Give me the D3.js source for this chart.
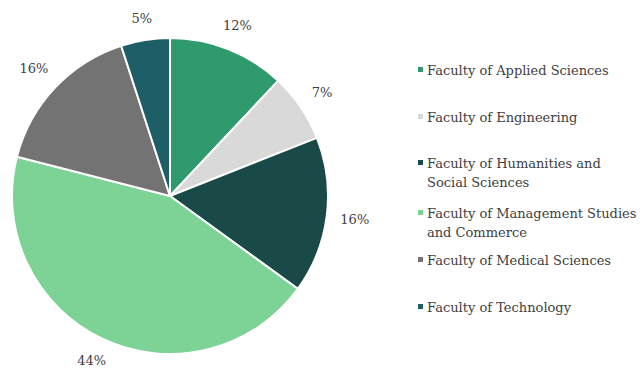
<!DOCTYPE html>
<html>
<head>
<meta charset="utf-8">
<script src="https://cdn.jsdelivr.net/npm/d3@7"></script>
<style>
  html, body { margin: 0; padding: 0; background: #ffffff; }
  svg { display: block; }
</style>
</head>
<body>
<svg id="chart" width="640" height="369"></svg>
<script>
const categories = [
  "Faculty of Applied Sciences",
  "Faculty of Engineering",
  "Faculty of Humanities and Social Sciences",
  "Faculty of Management Studies and Commerce",
  "Faculty of Medical Sciences",
  "Faculty of Technology"
];
const legendLines = [
  ["Faculty of Applied Sciences"],
  ["Faculty of Engineering"],
  ["Faculty of Humanities and", "Social Sciences"],
  ["Faculty of Management Studies", "and Commerce"],
  ["Faculty of Medical Sciences"],
  ["Faculty of Technology"]
];
const values = [12, 7, 16, 44, 16, 5];
const colors = ["#2f9a6e", "#d9d9d9", "#1a4a47", "#7cd395", "#737373", "#1d5e67"];

const FONT = "'DejaVu Serif', serif";
const W = 640, H = 369;
const svg = d3.select("#chart");
const cx = 170, cy = 196, r = 158;

const pie = d3.pie().sort(null).value(d => d)(values);
const arc = d3.arc().innerRadius(0).outerRadius(r);

const g = svg.append("g").attr("transform", `translate(${cx},${cy})`);
g.selectAll("path").data(pie).enter().append("path")
  .attr("d", arc)
  .attr("fill", (d, i) => colors[i])
  .attr("stroke", "#ffffff")
  .attr("stroke-width", 2)
  .attr("stroke-linejoin", "round");

const fs = 13;
const labels = g.selectAll("text.lbl").data(pie).enter().append("text")
  .attr("class", "lbl")
  .attr("font-family", FONT)
  .attr("font-size", fs)
  .attr("fill", "#404040")
  .attr("text-anchor", "middle")
  .attr("dominant-baseline", "central")
  .text(d => d.data + "%");

labels.each(function(d) {
  const bb = this.getBBox();
  const a = (d.startAngle + d.endAngle) / 2;
  const ux = Math.sin(a), uy = -Math.cos(a);
  const proj = Math.abs(ux) * bb.width / 2 + Math.abs(uy) * bb.height / 2;
  const rr = r + 13 + proj;
  let x = ux * rr, y = uy * rr;
  const maxY = H - cy - bb.height / 2 - 1;
  const minY = -cy + bb.height / 2 + 1;
  y = Math.max(minY, Math.min(maxY, y));
  d3.select(this).attr("x", x).attr("y", y);
});

const legendY = [70, 117, 163, 213, 260, 307];
const lg = svg.append("g");
const items = lg.selectAll("g").data(categories).enter().append("g")
  .attr("transform", (d, i) => `translate(0,${legendY[i]})`);
items.append("rect")
  .attr("x", 418).attr("y", -3).attr("width", 5).attr("height", 5)
  .attr("fill", (d, i) => colors[i]);
items.append("text")
  .attr("x", 427)
  .attr("font-family", FONT)
  .attr("font-size", fs)
  .attr("fill", "#404040")
  .attr("dominant-baseline", "central")
  .selectAll("tspan").data((d, i) => legendLines[i]).enter().append("tspan")
  .attr("x", 427)
  .attr("dy", (d, j) => j === 0 ? 0 : 19)
  .text(d => d);
</script>
</body>
</html>
